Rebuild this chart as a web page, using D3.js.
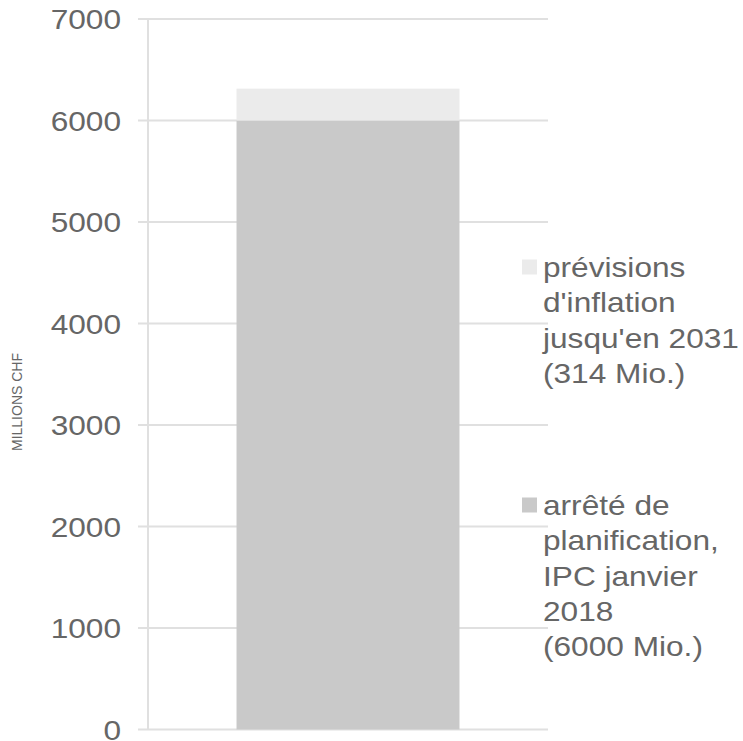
<!DOCTYPE html>
<html><head><meta charset="utf-8">
<script src="https://cdn.jsdelivr.net/npm/d3@7"></script>
<style>body{margin:0;background:#fff;}svg{display:block;font-family:"Liberation Sans",Arial,sans-serif;}</style>
</head><body>
<svg id="c" width="743" height="741"></svg>
<script>
const categories = [""];
const seriesNames = ["arrêté de planification, IPC janvier 2018 (6000 Mio.)", "prévisions d'inflation jusqu'en 2031 (314 Mio.)"];
const baseValues = [6000];
const inflationValues = [314];
const yTicks = [0, 1000, 2000, 3000, 4000, 5000, 6000, 7000];
const legendLines = [
  ["prévisions", "d'inflation", "jusqu'en 2031", "(314 Mio.)"],
  ["arrêté de", "planification,", "IPC janvier", "2018", "(6000 Mio.)"]
];
const yLabel = "MILLIONS CHF";

const svg = d3.select("#c");
const pLeft = 148, pRight = 548, pTop = 19, pBottom = 729.5;
const x = d3.scaleBand().domain(categories).range([pLeft, pRight]).paddingInner(0).paddingOuter(0.397);
const y = d3.scaleLinear().domain([0, 7000]).range([pBottom, pTop]);
const grid = "#e0e0e0", txt = "#666666";
const cDark = "#c9c9c9", cLight = "#ebebeb";
const sx = 1.13, fs = 28;

// gridlines
svg.append("g").selectAll("line").data(yTicks).join("line")
  .attr("x1", pLeft - 10).attr("x2", pRight)
  .attr("y1", d => y(d)).attr("y2", d => y(d))
  .attr("stroke", grid).attr("stroke-width", 2);
// vertical axis line
svg.append("line").attr("x1", pLeft).attr("x2", pLeft).attr("y1", y(7000)).attr("y2", y(0))
  .attr("stroke", grid).attr("stroke-width", 2);

// bars
const g = svg.append("g");
categories.forEach((c, i) => {
  g.append("rect").attr("x", x(c)).attr("width", x.bandwidth())
    .attr("y", y(baseValues[i])).attr("height", y(0) - y(baseValues[i])).attr("fill", cDark);
  g.append("rect").attr("x", x(c)).attr("width", x.bandwidth())
    .attr("y", y(baseValues[i] + inflationValues[i])).attr("height", y(baseValues[i]) - y(baseValues[i] + inflationValues[i])).attr("fill", cLight);
});

// tick labels
svg.append("g").selectAll("text").data(yTicks).join("text")
  .attr("transform", d => `translate(121,${y(d) + 10}) scale(${sx},1)`)
  .attr("text-anchor", "end").attr("fill", txt).attr("font-size", fs)
  .text(d => d);

// y label
svg.append("text").attr("transform", "translate(22,402) rotate(-90)")
  .attr("text-anchor", "middle").attr("fill", txt).attr("font-size", 14).text(yLabel);

// legend
const legendColors = [cLight, cDark];
const legendBase = [277, 515];
const lh = 35.3;
legendLines.forEach((lines, k) => {
  svg.append("rect").attr("x", 522).attr("y", legendBase[k] - 17.5).attr("width", 15).attr("height", 15).attr("fill", legendColors[k]);
  lines.forEach((s, j) => {
    svg.append("text").attr("fill", txt).attr("font-size", fs)
      .attr("transform", `translate(543,${legendBase[k] + j * lh}) scale(${sx},1)`)
      .text(s);
  });
});
</script>
</body></html>
